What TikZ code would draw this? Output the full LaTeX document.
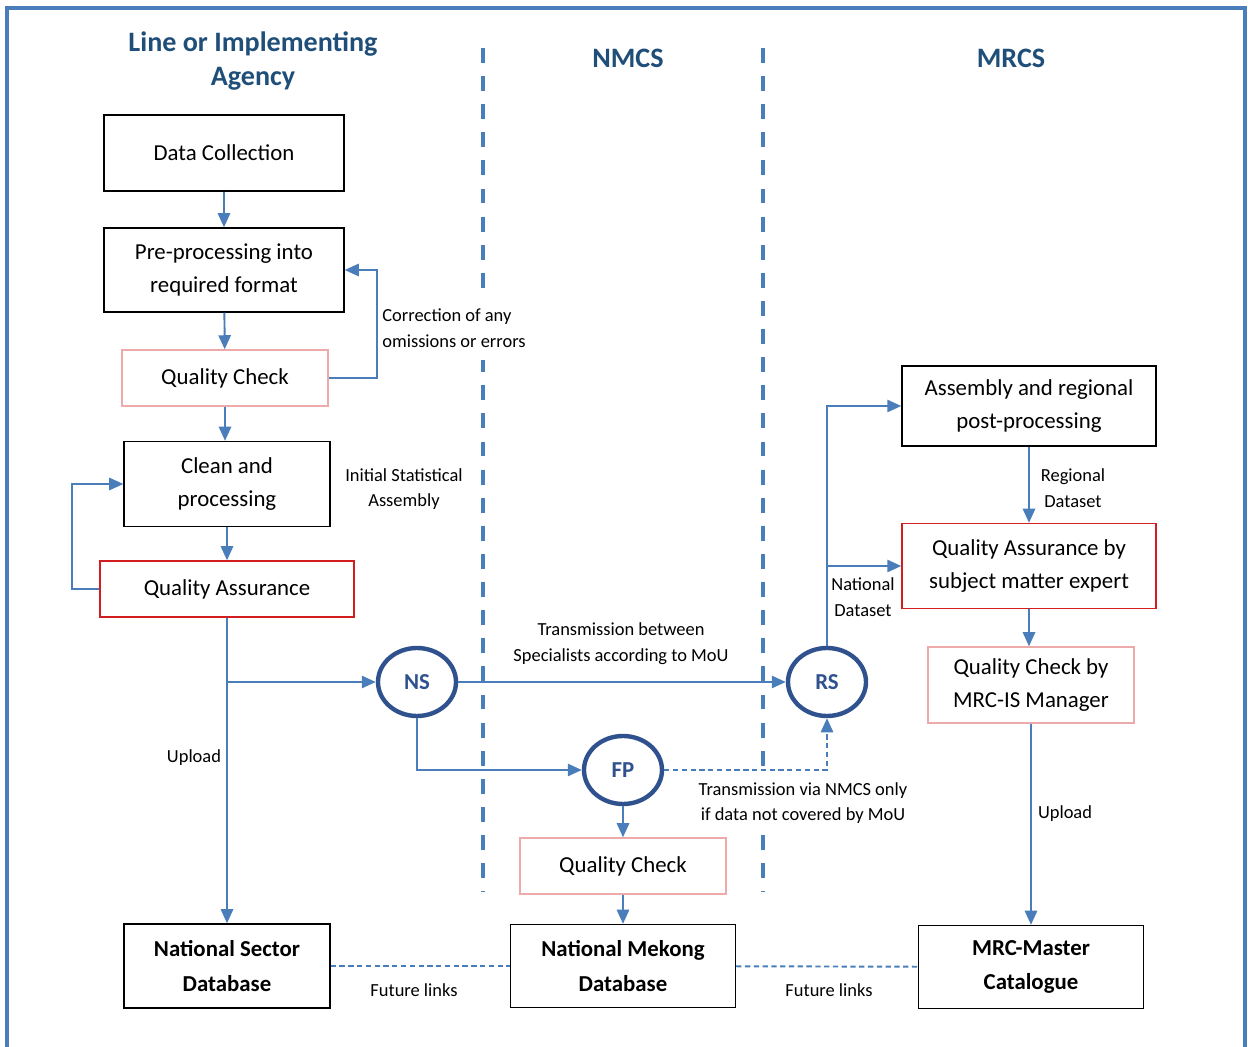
\documentclass[tikz,border=0pt]{standalone}
\usepackage{fontspec}
\setmainfont{Carlito}
\usetikzlibrary{arrows.meta,shapes.geometric}

\definecolor{lineblue}{RGB}{74,126,187}
\definecolor{hubblue}{RGB}{47,82,143}
\definecolor{headblue}{RGB}{31,78,121}
\definecolor{checkpink}{RGB}{236,170,170}
\definecolor{assurered}{RGB}{210,30,30}

\begin{document}
\begin{tikzpicture}[x=0.02cm, y=-0.02cm]
\useasboundingbox (0,0) rectangle (1248,1047);

% frame and lanes
\draw[lineblue, line width=2.3pt] (7,1060) -- (7,8) -- (1245,8) -- (1245,1060);

\tikzset{LaneStyle/.style = {lineblue, line width=2.2pt, dash pattern=on 8.5pt off 7.5pt}}
\draw[LaneStyle] (483,48) -- (483,892);
\draw[LaneStyle] (763,48) -- (763,892);

\tikzset{HeadStyle/.style = {headblue, align=center, inner sep=0pt,
 font=\fontsize{16}{19.8}\selectfont\bfseries} }

\node[HeadStyle] (HeadLIA) at (253,61) {Line or Implementing\\Agency};
\node[HeadStyle] (HeadNMCS) at (628,58) {NMCS};
\node[HeadStyle] (HeadMRCS) at (1011,58) {MRCS};

% notes
\tikzset{NoteStyle/.style = {align=center, inner xsep=1pt, inner ysep=0pt,
 font=\fontsize{10.5}{14.7}\selectfont} }

\node[NoteStyle, align=left, fill=white, inner ysep=7pt] (NoteCorr) at (454,328) {Correction of any\\omissions or errors};
\node[NoteStyle] (NoteInit) at (404,489) {Initial Statistical\\Assembly};
\node[NoteStyle] (NoteSpec) at (621,644) {Transmission between\\Specialists according to MoU};
\node[NoteStyle, fill=white, inner ysep=4pt] (NoteVia) at (803,803) {Transmission via NMCS only\\if data not covered by MoU};
\node[NoteStyle] (NoteNat) at (863,597) {National\\Dataset};
\node[NoteStyle] (NoteReg) at (1073,488) {Regional\\Dataset};
\node[NoteStyle] (NoteUpL) at (194,758) {Upload};
\node[NoteStyle] (NoteUpR) at (1065,814) {Upload};
\node[NoteStyle] (NoteFutL) at (414,990) {Future links};
\node[NoteStyle] (NoteFutR) at (829,990) {Future links};

% boxes
\tikzset{BoxSize/.style 2 args = {minimum width=#1*0.02cm, minimum height=#2*0.02cm},
 BoxStyle/.style = {draw=black, line width=0.8pt, align=center, inner sep=0pt,
 font=\fontsize{13}{18.5}\selectfont},
 CheckStyle/.style = {BoxStyle, draw=checkpink},
 AssureStyle/.style = {BoxStyle, draw=assurered},
 DbStyle/.style = {BoxStyle, font=\fontsize{13}{19.5}\selectfont\bfseries},
 HubStyle/.style = {ellipse, draw=hubblue, line width=2.5pt, text=hubblue,
 inner sep=0pt, minimum width=78*0.02cm, minimum height=68*0.02cm,
 font=\fontsize{13}{15}\selectfont\bfseries} }

\node[BoxStyle, BoxSize={240}{76}] (DataColl) at (224,153) {Data Collection};
\node[BoxStyle, BoxSize={240}{84}] (PreProc) at (224,270) {Pre-processing into\\required format};
\node[CheckStyle, BoxSize={206}{56}] (QCLine) at (225,378) {Quality Check};
\node[BoxStyle, BoxSize={206}{85}] (CleanProc) at (227,484) {Clean and\\processing};
\node[AssureStyle, BoxSize={254}{56}] (QALine) at (227,589) {Quality Assurance};

\node[HubStyle] (NS) at (417,682) {NS};
\node[HubStyle] (RS) at (827,682) {RS};
\node[HubStyle] (FP) at (623,770) {FP};

\node[CheckStyle, BoxSize={206}{56}] (QCNmcs) at (623,866) {Quality Check};

\node[BoxStyle, BoxSize={254}{80}] (Assembly) at (1029,406) {Assembly and regional\\post-processing};
\node[AssureStyle, BoxSize={254}{85}] (QAExpert) at (1029,566) {Quality Assurance by\\subject matter expert};
\node[CheckStyle, BoxSize={206}{76}] (QCMrc) at (1031,685) {Quality Check by\\MRC-IS Manager};

\node[DbStyle, BoxSize={206}{84}] (NSDb) at (227,966) {National Sector\\Database};
\node[DbStyle, BoxSize={225}{83}] (NMDb) at (623,966) {National Mekong\\Database};
\node[DbStyle, BoxSize={225}{83}] (MRCCat) at (1031,967) {MRC-Master\\Catalogue};

% connectors
\tikzset{FlowStyle/.style = {lineblue, line width=1.1pt, -{Triangle[length=8pt,width=7pt]}},
 FutureStyle/.style = {lineblue, line width=1.1pt, dash pattern=on 3pt off 2pt} }

\draw[FlowStyle] (DataColl) -- (PreProc);
\draw[FlowStyle] (PreProc) -- (QCLine);
\draw[FlowStyle] (QCLine.east) -- ++(48,0) |- (PreProc.east);
\draw[FlowStyle] (QCLine.south) -- (QCLine.south |- CleanProc.north);
\draw[FlowStyle] (CleanProc) -- (QALine);
\draw[FlowStyle] (QALine.west) -- ++(-27,0) |- (CleanProc.west);
\draw[FlowStyle] (QALine) -- (NSDb);

\coordinate (NSJoin) at (QALine.south |- NS.west);
\draw[FlowStyle] (NSJoin) -- (NS.west);
\draw[FlowStyle] (NS) -- (RS);
\draw[FlowStyle] (NS.south) |- (FP.west);
\draw[FlowStyle, dash pattern=on 3pt off 2pt] (FP.east) -| (RS.south);
\draw[FlowStyle] (FP) -- (QCNmcs);
\draw[FlowStyle] (QCNmcs) -- (NMDb);

\draw[FlowStyle] (RS.north) |- (Assembly.west);
\coordinate (RSJoin) at (RS.north |- QAExpert.west);
\draw[FlowStyle] (RSJoin) -- (QAExpert.west);
\draw[FlowStyle] (Assembly) -- (QAExpert);
\draw[FlowStyle] (QAExpert.south) -- (QAExpert.south |- QCMrc.north);
\draw[FlowStyle] (QCMrc) -- (MRCCat);

\draw[FutureStyle] (NSDb) -- (NMDb);
\draw[FutureStyle] (NMDb) -- (MRCCat);

\end{tikzpicture}
\end{document}
